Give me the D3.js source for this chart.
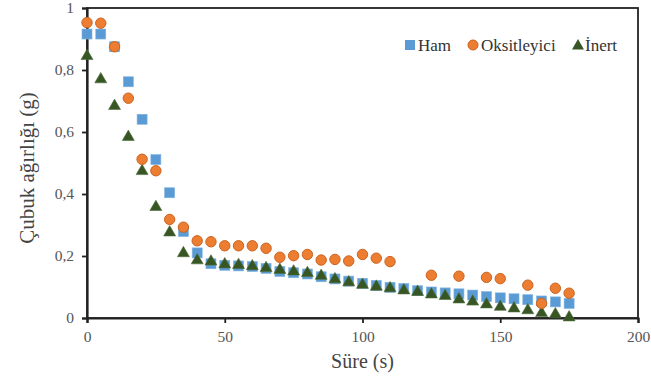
<!DOCTYPE html>
<html>
<head>
<meta charset="utf-8">
<script src="https://cdn.jsdelivr.net/npm/d3@7"></script>
<style>
  body { margin: 0; background: #fff; }
  text { font-family: "Liberation Serif", "Times New Roman", serif; }
</style>
</head>
<body>
<div id="chart"></div>
<script>
// times (s)
const hamTime = d3.range(0, 180, 5)
const hamVal = [0.916, 0.916, 0.875, 0.762, 0.641, 0.511, 0.404, 0.279, 0.21, 0.175,
  0.17, 0.168, 0.166, 0.16, 0.15, 0.146, 0.142, 0.133, 0.126, 0.119,
  0.112, 0.105, 0.099, 0.095, 0.088, 0.084, 0.081, 0.078, 0.074, 0.069,
  0.065, 0.062, 0.059, 0.055, 0.052, 0.047]

const oksTime = [0, 5, 10, 15, 20, 25, 30, 35, 40, 45, 50, 55, 60, 65, 70, 75, 80, 85,
  90, 95, 100, 105, 110, 125, 135, 145, 150, 160, 165, 170, 175]
const oksVal = [0.953, 0.951, 0.875, 0.709, 0.512, 0.475, 0.318, 0.293, 0.249, 0.246,
  0.233, 0.233, 0.233, 0.225, 0.196, 0.201, 0.205, 0.187, 0.189, 0.184,
  0.205, 0.193, 0.182, 0.138, 0.135, 0.131, 0.127, 0.106, 0.047, 0.096, 0.08]

const inertTime = d3.range(0, 180, 5)
const inertVal = [0.848, 0.773, 0.687, 0.587, 0.477, 0.361, 0.279, 0.212, 0.189, 0.185,
  0.176, 0.174, 0.17, 0.164, 0.158, 0.153, 0.148, 0.139, 0.128, 0.118,
  0.11, 0.104, 0.099, 0.092, 0.087, 0.079, 0.074, 0.063, 0.056, 0.047,
  0.039, 0.034, 0.028, 0.019, 0.015, 0.005]

const xTicks = [0, 50, 100, 150, 200]
const yTicks = [0, 0.2, 0.4, 0.6, 0.8, 1]

const width = 651
const height = 378
const margin = { left: 87, right: 13, top: 8, bottom: 60 }
const serif = '"Liberation Serif", "Times New Roman", serif'

const svg = d3.select('#chart').append('svg')
  .attr('width', width)
  .attr('height', height)

const x = d3.scaleLinear().domain([0, 200]).range([margin.left, width - margin.right])
const y = d3.scaleLinear().domain([0, 1]).range([height - margin.bottom, margin.top])

// frame
svg.append('rect')
  .attr('x', x(0)).attr('y', y(1))
  .attr('width', x(200) - x(0)).attr('height', y(0) - y(1))
  .attr('fill', 'none').attr('stroke', '#222').attr('stroke-width', 1.8)

const xAxis = svg.append('g')
  .attr('transform', `translate(0,${y(0)})`)
  .call(d3.axisBottom(x).tickValues(xTicks).tickSizeOuter(0).tickSize(5).tickFormat(d3.format('d')))
const yAxis = svg.append('g')
  .attr('transform', `translate(${x(0)},0)`)
  .call(d3.axisLeft(y).tickValues(yTicks).tickSizeOuter(0).tickSize(5)
    .tickFormat(d => d === 0 || d === 1 ? d : String(d.toFixed(1)).replace('.', ',')))

for (const g of [xAxis, yAxis]) {
  g.attr('font-family', serif).attr('font-size', 15)
  g.select('.domain').attr('stroke', '#222').attr('stroke-width', 2.2)
  g.selectAll('.tick line').attr('stroke', '#222').attr('stroke-width', 1.8)
  g.selectAll('.tick text')
    .attr('fill', '#555')
    .style('font-family', serif)
    .style('font-size', '15.5px')
}
xAxis.selectAll('.tick text').attr('dy', '1.05em')
yAxis.selectAll('.tick text').attr('x', -13)

// axis titles
svg.append('text')
  .attr('x', x(100)).attr('y', 368)
  .attr('text-anchor', 'middle')
  .attr('fill', '#444')
  .style('font-size', '20px')
  .text('Süre (s)')

svg.append('text')
  .attr('transform', `translate(34,${y(0.5) + 5}) rotate(-90)`)
  .attr('text-anchor', 'middle')
  .attr('fill', '#444')
  .style('font-size', '21px')
  .text('Çubuk ağırlığı (g)')

const blue = '#5b9bd5'
const orange = '#ed7d31'
const green = '#375623'

const tri = d3.symbol().type(d3.symbolTriangle).size(62)

svg.append('g').selectAll('rect')
  .data(hamTime.map((t, i) => [t, hamVal[i]]))
  .join('rect')
  .attr('x', d => x(d[0]) - 5)
  .attr('y', d => y(d[1]) - 5)
  .attr('width', 10).attr('height', 10)
  .attr('fill', blue)
  .attr('stroke', '#7fb2e0').attr('stroke-width', 0.6)

svg.append('g').selectAll('path')
  .data(inertTime.map((t, i) => [t, inertVal[i]]))
  .join('path')
  .attr('transform', d => `translate(${x(d[0])},${y(d[1]) + 1})`)
  .attr('d', tri)
  .attr('fill', green)
  .attr('stroke', '#4c6b3a').attr('stroke-width', 0.6)

svg.append('g').selectAll('circle')
  .data(oksTime.map((t, i) => [t, oksVal[i]]))
  .join('circle')
  .attr('cx', d => x(d[0]))
  .attr('cy', d => y(d[1]))
  .attr('r', 5.2)
  .attr('fill', orange)
  .attr('stroke', '#c9631f').attr('stroke-width', 1)

// legend
const leg = svg.append('g').attr('transform', 'translate(0,45)')
leg.append('rect').attr('x', 405).attr('y', -5).attr('width', 10).attr('height', 10).attr('fill', blue)
leg.append('text').attr('x', 418).attr('y', 5.5).attr('fill', '#333').style('font-size', '17px').text('Ham')
leg.append('circle').attr('cx', 473).attr('cy', 0).attr('r', 5).attr('fill', orange).attr('stroke', '#c9631f')
leg.append('text').attr('x', 481).attr('y', 5.5).attr('fill', '#333').style('font-size', '17px').text('Oksitleyici')
leg.append('path').attr('transform', 'translate(578,1)').attr('d', tri).attr('fill', green)
leg.append('text').attr('x', 585).attr('y', 5.5).attr('fill', '#333').style('font-size', '17px').text('İnert')
</script>
</body>
</html>
